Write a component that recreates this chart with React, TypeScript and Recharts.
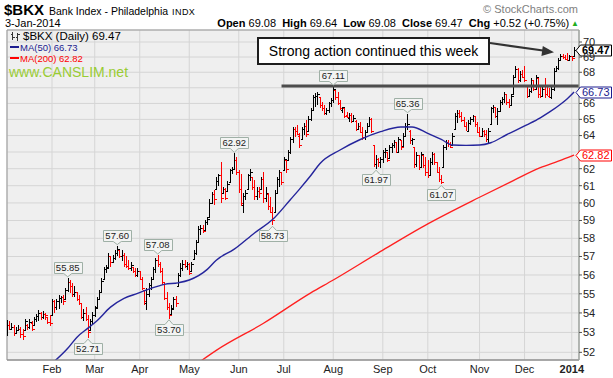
import React from "react";
import { ComposedChart, Bar, Line, XAxis, YAxis, CartesianGrid, ReferenceLine, ReferenceDot, ReferenceArea } from "recharts";

const FONT = '"Liberation Sans", Arial, sans-serif';

// daily OHLC, 3-Jan-2013 .. 3-Jan-2014 (one row per month)
const opens = [
  53.0, 53.4, 53.2, 53.3, 52.95, 53.1, 53.2, 52.9, 53.1, 53.4, 53.3, 53.5, 53.4, 53.7, 53.85, 54.0, 53.8, 53.95, 53.8, 53.55,
  53.9, 54.6, 54.3, 54.6, 54.8, 54.85, 54.7, 55.2, 55.6, 55.4, 55.0, 55.1, 54.7, 54.5, 53.8, 54.0, 53.7, 53.1, 53.6,
  53.9, 54.3, 54.75, 55.1, 55.8, 56.3, 56.45, 57.0, 56.7, 56.9, 57.2, 57.35, 57.0, 57.1, 56.6, 56.5, 56.35, 56.45, 56.2, 56.0,
  56.2, 55.8, 55.2, 54.5, 55.0, 55.45, 55.8, 56.3, 56.8, 56.6, 56.2, 55.5, 54.8, 54.3, 53.95, 54.25, 54.7, 55.4, 56.0, 56.4, 56.6, 56.5,
  56.6, 56.2, 56.85, 57.2, 57.8, 58.5, 58.6, 58.45, 58.9, 59.2, 60.0, 60.5, 60.8, 61.3, 61.6, 60.6, 60.8, 60.7, 61.2, 61.9, 62.0, 62.5,
  61.8, 60.8, 59.9, 60.4, 60.8, 61.6, 61.5, 60.9, 60.4, 60.7, 60.8, 61.4, 60.3, 60.5, 59.8, 59.5, 59.5, 60.6, 61.4, 61.8,
  61.9, 62.5, 62.5, 63.0, 63.8, 64.4, 64.3, 64.0, 63.8, 64.4, 64.6, 64.3, 65.0, 65.6, 66.4, 66.5, 66.4, 65.9, 65.7, 65.4, 65.6, 66.0,
  66.2, 66.85, 66.4, 66.0, 65.6, 65.7, 65.3, 65.1, 65.3, 64.9, 64.9, 64.4, 64.6, 64.2, 63.9, 64.2, 64.6, 65.0, 63.4, 62.3, 62.6, 62.4,
  62.6, 63.0, 63.0, 62.65, 63.3, 63.4, 63.6, 63.0, 63.7, 63.35, 64.0, 64.6, 64.3, 63.7, 63.3, 62.3, 62.8, 62.1, 62.8, 62.2,
  61.8, 61.6, 62.4, 62.9, 62.4, 61.8, 61.4, 62.1, 63.3, 63.6, 63.5, 63.4, 64.4, 65.2, 65.4, 65.2, 64.95, 64.6, 64.3, 64.8, 65.0, 65.2, 64.7,
  64.2, 64.0, 64.3, 64.1, 63.8, 64.7, 65.7, 65.8, 65.2, 65.5, 66.1, 66.3, 66.6, 66.1, 65.9, 66.6, 67.7, 68.2, 67.5, 67.9,
  67.7, 67.2, 66.5, 66.8, 67.5, 66.9, 67.6, 66.6, 66.5, 66.9, 66.6, 66.5, 66.4, 66.95, 68.1, 68.3, 68.8, 69.1, 69.0, 68.9, 68.8,
  69.05, 69.08,
];
const highs = [
  53.65, 53.6, 53.5, 53.4, 53.3, 53.4, 53.3, 53.2, 53.7, 53.45, 53.7, 53.6, 53.8, 53.95, 54.15, 54.05, 54.1, 54.0, 53.8, 53.9,
  54.7, 54.65, 54.7, 54.95, 54.9, 54.95, 55.3, 55.85, 55.75, 55.55, 55.4, 55.1, 54.95, 54.5, 54.2, 54.3, 53.9, 53.7, 54.05,
  54.35, 54.85, 55.2, 55.85, 56.45, 56.55, 57.2, 57.0, 57.1, 57.36, 57.6, 57.35, 57.35, 57.2, 57.0, 56.8, 56.7, 56.45, 56.35, 56.35,
  56.2, 55.9, 55.2, 55.3, 55.55, 55.9, 56.45, 56.9, 57.08, 56.7, 56.35, 55.55, 55.1, 54.5, 54.4, 54.85, 54.9, 56.1, 56.65, 56.8, 56.8, 56.7,
  56.65, 56.7, 57.36, 57.9, 58.7, 58.75, 58.75, 59.0, 59.2, 60.2, 60.65, 60.75, 61.5, 61.7, 62.42, 60.95, 60.85, 61.25, 62.0, 62.1, 62.92, 62.7,
  61.93, 61.7, 60.55, 60.75, 61.7, 62.0, 61.53, 61.34, 60.95, 60.95, 61.53, 61.83, 60.95, 60.55, 60.36, 59.79, 60.75, 61.53, 61.93, 61.83,
  62.7, 62.52, 63.12, 63.93, 64.55, 64.55, 64.65, 64.14, 64.55, 64.8, 64.96, 65.2, 65.7, 66.55, 66.65, 66.75, 66.43, 66.1, 65.9, 65.7, 66.1, 66.32,
  67.11, 66.86, 66.75, 66.22, 65.8, 65.7, 65.48, 65.38, 65.38, 65.28, 64.96, 64.76, 64.86, 64.55, 64.35, 64.76, 65.17, 65.07, 63.42, 62.8, 62.62, 62.72,
  63.1, 63.22, 63.02, 63.42, 63.52, 63.73, 63.62, 63.93, 63.73, 64.14, 64.76, 65.36, 64.35, 63.83, 63.32, 63.02, 62.82, 63.02, 62.82, 62.72,
  62.52, 62.62, 63.02, 62.92, 62.42, 62.13, 61.63, 63.42, 63.73, 63.73, 63.62, 64.14, 65.38, 65.59, 65.59, 65.48, 65.17, 64.86, 64.96, 65.17, 65.28, 65.2, 64.86,
  64.55, 64.45, 64.35, 64.35, 64.45, 65.8, 65.9, 65.8, 65.7, 66.22, 66.43, 66.75, 66.6, 66.3, 66.6, 67.8, 68.4, 68.28, 68.06, 68.17,
  68.4, 67.2, 66.9, 67.63, 67.52, 67.85, 67.63, 67.2, 67.1, 67.63, 67.1, 67.0, 67.1, 68.28, 68.4, 68.94, 69.2, 69.2, 69.16, 69.27, 69.16,
  69.05, 69.64,
];
const lows = [
  52.8, 53.1, 53.1, 52.8, 52.95, 53.05, 52.7, 52.6, 53.05, 53.1, 53.2, 53.05, 53.35, 53.55, 53.6, 53.65, 53.7, 53.65, 53.45, 53.35,
  53.9, 54.0, 54.15, 54.2, 54.5, 54.4, 54.65, 55.1, 55.05, 54.85, 54.85, 54.6, 54.4, 53.7, 53.6, 53.6, 52.71, 53.1, 53.45,
  53.8, 54.3, 54.7, 55.05, 55.73, 56.1, 56.45, 56.45, 56.65, 56.8, 57.05, 56.9, 56.75, 56.45, 56.4, 56.27, 56.2, 56.1, 55.9, 55.9,
  55.73, 55.2, 54.4, 54.15, 54.85, 55.2, 55.73, 56.1, 56.45, 56.1, 55.47, 54.67, 54.15, 53.7, 53.9, 54.25, 54.3, 55.4, 55.9, 56.2, 56.35, 56.27,
  56.0, 56.15, 56.8, 57.1, 57.8, 58.2, 58.3, 58.45, 58.75, 59.2, 60.0, 59.9, 60.75, 61.0, 59.98, 60.55, 60.17, 60.65, 61.2, 61.7, 62.0, 61.6,
  60.55, 59.8, 59.42, 60.17, 60.75, 61.25, 60.75, 60.17, 60.17, 60.27, 60.75, 59.98, 60.07, 59.6, 59.41, 58.73, 59.41, 60.55, 60.95, 61.04,
  61.85, 61.73, 62.45, 62.9, 63.52, 63.93, 64.04, 63.22, 63.73, 64.04, 63.9, 64.3, 64.9, 65.59, 65.8, 65.9, 65.7, 65.5, 65.28, 65.28, 65.38, 65.8,
  66.0, 66.22, 65.9, 65.59, 65.38, 65.07, 65.1, 64.86, 64.76, 64.86, 64.25, 64.35, 64.14, 63.73, 63.73, 64.14, 64.55, 64.14, 62.1, 61.97, 62.13, 62.03,
  62.33, 62.62, 62.42, 62.6, 62.92, 63.22, 62.92, 63.0, 63.12, 63.32, 63.93, 64.35, 63.5, 63.42, 62.03, 62.13, 61.93, 62.05, 62.03, 61.54,
  61.44, 61.55, 62.23, 62.23, 61.73, 61.24, 61.07, 62.03, 63.12, 63.32, 63.22, 63.38, 64.35, 64.76, 65.07, 64.86, 64.55, 64.25, 64.3, 64.66, 64.86, 64.55, 64.14,
  63.93, 64.0, 63.93, 63.62, 63.52, 64.7, 65.38, 65.07, 64.66, 65.5, 65.9, 66.0, 65.9, 65.7, 65.9, 66.6, 67.63, 67.3, 67.4, 67.63,
  67.4, 66.35, 66.45, 66.67, 66.78, 66.9, 66.35, 66.35, 66.45, 66.35, 66.45, 66.35, 66.25, 66.78, 68.0, 68.17, 68.72, 68.9, 68.83, 68.72, 68.8,
  68.72, 69.08,
];
const closes = [
  53.4, 53.2, 53.3, 52.95, 53.15, 53.2, 52.9, 52.8, 53.6, 53.3, 53.55, 53.2, 53.7, 53.85, 54.0, 53.8, 53.95, 53.9, 53.55, 53.5,
  54.6, 54.3, 54.6, 54.8, 54.85, 54.6, 55.2, 55.6, 55.4, 55.0, 55.1, 54.7, 54.5, 53.8, 54.0, 53.7, 53.0, 53.6, 53.9,
  54.25, 54.75, 55.1, 55.7, 56.3, 56.4, 57.0, 56.7, 56.9, 57.2, 57.4, 57.0, 57.1, 56.6, 56.5, 56.35, 56.55, 56.2, 56.0, 56.2,
  55.8, 55.3, 54.6, 55.0, 55.45, 55.8, 56.3, 56.8, 56.6, 56.2, 55.6, 54.8, 54.3, 53.9, 54.2, 54.7, 54.5, 56.0, 56.4, 56.6, 56.5, 56.6,
  56.1, 56.6, 57.2, 57.8, 58.5, 58.6, 58.4, 58.9, 59.1, 60.0, 60.5, 60.2, 61.3, 61.6, 60.3, 60.8, 60.3, 61.1, 61.9, 62.0, 62.5, 61.8,
  60.8, 60.0, 60.4, 60.6, 61.6, 61.8, 60.9, 60.4, 60.7, 60.6, 61.4, 60.3, 60.6, 59.8, 59.5, 59.0, 60.6, 61.4, 61.8, 61.2,
  62.6, 62.0, 63.0, 63.8, 64.4, 64.3, 64.1, 63.4, 64.4, 64.6, 64.1, 65.0, 65.6, 66.4, 66.5, 66.6, 65.9, 65.7, 65.4, 65.6, 66.0, 66.2,
  66.9, 66.4, 66.0, 65.7, 65.75, 65.2, 65.15, 65.3, 64.9, 65.1, 64.4, 64.6, 64.2, 63.9, 64.2, 64.6, 65.0, 64.3, 62.3, 62.6, 62.4, 62.6,
  63.0, 63.1, 62.5, 63.3, 63.4, 63.6, 63.0, 63.8, 63.3, 64.0, 64.6, 64.7, 63.7, 63.8, 62.3, 62.8, 62.1, 62.9, 62.2, 61.8,
  61.6, 62.4, 62.9, 62.4, 61.8, 61.4, 61.2, 63.3, 63.6, 63.5, 63.3, 64.0, 65.2, 65.4, 65.2, 64.95, 64.6, 64.3, 64.8, 65.0, 65.2, 64.7, 64.2,
  64.0, 64.3, 64.1, 63.8, 64.3, 65.7, 65.8, 65.2, 65.5, 66.1, 66.3, 66.6, 66.1, 65.9, 66.5, 67.7, 68.2, 67.5, 67.9, 67.7,
  67.5, 66.5, 66.8, 67.5, 66.9, 67.7, 66.6, 66.5, 66.9, 66.6, 66.5, 66.4, 66.95, 68.1, 68.3, 68.8, 69.1, 69.0, 68.9, 68.8, 69.05,
  68.95, 69.47,
];

// moving averages (bar index, value)
const ma50Idx = [20, 27, 31, 36, 40, 46, 52, 58, 64, 70, 76, 81, 89, 93, 101, 110, 118, 126, 130, 135, 139, 148, 157, 166, 175, 180, 187, 193, 198, 204, 210, 215, 222, 231, 237, 241, 246, 249, 252];
const ma50Val = [51.45, 52.2, 52.75, 53.22, 53.6, 54.3, 54.76, 55.02, 55.29, 55.5, 55.58, 55.73, 56.3, 56.8, 57.4, 58.3, 59.05, 60.2, 60.8, 61.6, 62.3, 63.12, 63.76, 64.24, 64.53, 64.53, 64.14, 63.76, 63.42, 63.4, 63.42, 63.56, 64.05, 64.66, 65.1, 65.45, 65.95, 66.3, 66.73];
const ma200Idx = [84, 93, 114, 135, 145, 165, 187, 210, 225, 237, 245, 252];
const ma200Val = [51.4, 52.1, 53.47, 55.05, 55.73, 57.2, 58.81, 60.33, 61.3, 62.06, 62.45, 62.82];

const monthIdx = [20, 39, 59, 81, 103, 123, 145, 167, 187, 210, 230, 251];
const monthLabels = ["Feb", "Mar", "Apr", "May", "Jun", "Jul", "Aug", "Sep", "Oct", "Nov", "Dec", "2014"];
const priceTicks = [52, 53, 54, 55, 56, 57, 58, 59, 60, 61, 62, 63, 64, 65, 66, 67, 68, 69, 70];

const peakIdx = [27, 49, 67, 101, 145, 178];
const peakVal = [55.85, 57.6, 57.08, 62.92, 67.11, 65.36];
const troughIdx = [36, 72, 118, 164, 193];
const troughVal = [52.71, 53.7, 58.73, 61.97, 61.07];

const resistance = 67.11;
const resistanceFrom = 122;

const X_MAX = 254.2;
const Y_DOMAIN = [51.62, 70.81];

const bars = opens.map((o, i) => ({
  i,
  o,
  h: highs[i],
  l: lows[i],
  c: closes[i],
  up: i === 0 ? closes[0] >= o : closes[i] >= closes[i - 1],
}));
const ma50Data = ma50Idx.map((i, k) => ({ i, v: ma50Val[k] }));
const ma200Data = ma200Idx.map((i, k) => ({ i, v: ma200Val[k] }));

const last = closes.length - 1;
const lastClose = closes[last];
const lastMa50 = ma50Val[ma50Val.length - 1];
const lastMa200 = ma200Val[ma200Val.length - 1];
const prevClose = closes[last - 1];
const tagVals = [lastClose, lastMa50, lastMa200];

function OhlcBar(props: any) {
  const { x, y, width, height, payload } = props;
  if (x == null || y == null || !payload) return null;
  const top = Math.min(y, y + height);
  const bot = Math.max(y, y + height, top + 1);
  const lh = Math.log(payload.h);
  const span = lh - Math.log(payload.l);
  const at = (v: number) => (span > 0 ? top + ((lh - Math.log(v)) / span) * (bot - top) : top);
  const cx = Math.round(x + width / 2) + 0.5;
  const yo = Math.round(at(payload.o)) + 0.5;
  const yc = Math.round(at(payload.c)) + 0.5;
  return (
    <g stroke={payload.up ? "#000" : "#ff0000"} strokeWidth={1} shapeRendering="crispEdges">
      <line x1={cx} x2={cx} y1={top} y2={bot} />
      <line x1={cx - 2} x2={cx} y1={yo} y2={yo} />
      <line x1={cx} x2={cx + 2} y1={yc} y2={yc} />
    </g>
  );
}

function Callout({ cx, cy, value, below }: any) {
  if (cx == null || cy == null) return null;
  const w = 28;
  const h = 11;
  const gap = 5;
  const x0 = Math.round(cx - w / 2) + 0.5;
  const x1 = x0 + w;
  let d: string;
  let ty: number;
  if (below) {
    const t = Math.round(cy + gap) + 0.5;
    d = `M${x0},${t} H${cx - 4} L${cx},${cy + 1} L${cx + 4},${t} H${x1} V${t + h} H${x0} Z`;
    ty = t + h / 2;
  } else {
    const b = Math.round(cy - gap) + 0.5;
    d = `M${x0},${b - h} H${x1} V${b} H${cx + 4} L${cx},${cy - 1} L${cx - 4},${b} H${x0} Z`;
    ty = b - h / 2;
  }
  return (
    <g>
      <path d={d} fill="#f3f4f3" stroke="#9fb0a6" strokeWidth={1} />
      <text x={cx} y={ty} dy="0.35em" textAnchor="middle" fontSize={9.5} fontFamily={FONT} fill="#222">
        {value.toFixed(2)}
      </text>
    </g>
  );
}

function PriceTag({ cx, cy, value, color, bold }: any) {
  if (cx == null || cy == null) return null;
  const yy = Math.round(cy) + 0.5;
  const x0 = cx - 3;
  const x1 = cx + 1.5;
  const x2 = cx + 32.5;
  const hh = 5.5;
  return (
    <g>
      <path d={`M${x0},${yy} L${x1},${yy - hh} H${x2} V${yy + hh} H${x1} Z`} fill="#fff" stroke={color} strokeWidth={1} />
      <text x={x1 + 1.5} y={yy} dy="0.36em" fontSize={11} fontWeight={bold ? "bold" : "normal"} fontFamily={FONT} fill={color}>
        {value.toFixed(2)}
      </text>
    </g>
  );
}

// price labels that sit right under a last-value tag are covered by it
function PriceTick(props: any) {
  const { x, y, payload } = props;
  const v = payload.value;
  if (tagVals.some((t) => Math.abs(Math.log(v / t)) < 0.005)) return <g />;
  return (
    <text x={x} y={y} dy="0.355em" fontSize={11} fontFamily={FONT} fill="#222" textAnchor="start">
      {v}
    </text>
  );
}

function MonthTick(props: any) {
  const { x, y, payload } = props;
  const label = monthLabels[monthIdx.indexOf(payload.value)];
  return (
    <text x={x} y={y} dy="0.71em" textAnchor="middle" fontSize={11} fontFamily={FONT} fill="#222" fontWeight={label === "2014" ? "bold" : "normal"}>
      {label}
    </text>
  );
}

function BarGlyph() {
  return (
    <svg width={10} height={10} style={{ verticalAlign: "-1px", marginRight: 3 }}>
      <g stroke="#333" strokeWidth={1} shapeRendering="crispEdges">
        <line x1={2.5} x2={2.5} y1={1} y2={9} />
        <line x1={0.5} x2={2.5} y1={3.5} y2={3.5} />
        <line x1={2.5} x2={4.5} y1={6.5} y2={6.5} />
        <line x1={7.5} x2={7.5} y1={2} y2={10} />
        <line x1={5.5} x2={7.5} y1={6.5} y2={6.5} />
        <line x1={7.5} x2={9.5} y1={3.5} y2={3.5} />
      </g>
    </svg>
  );
}

export default function App() {
  const chg = lastClose - prevClose;
  const pct = (chg / prevClose) * 100;
  return (
    <div style={{ position: "absolute", left: 0, top: 0, width: 613, height: 378, background: "#fff", fontFamily: FONT, overflow: "hidden" }}>
      <ComposedChart width={613} height={378} data={bars} margin={{ top: 30, right: 0, bottom: 0, left: 7 }}>
        <CartesianGrid fill="#efefef" stroke="#d5d5d5" />
        <XAxis
          type="number"
          dataKey="i"
          domain={[0, X_MAX]}
          allowDataOverflow
          ticks={monthIdx}
          interval={0}
          tick={<MonthTick />}
          tickLine={false}
          tickSize={5}
          tickMargin={0}
          height={18}
          axisLine={{ stroke: "#8d8d8d" }}
        />
        <YAxis
          orientation="right"
          type="number"
          scale="log"
          domain={Y_DOMAIN}
          allowDataOverflow
          ticks={priceTicks}
          interval={0}
          width={34}
          tickSize={3}
          tickMargin={1}
          tickLine={{ stroke: "#555" }}
          axisLine={{ stroke: "#a3aaa3" }}
          tick={<PriceTick />}
        />
        <ReferenceArea x1={0} x2={X_MAX} y1={Y_DOMAIN[0]} y2={Y_DOMAIN[1]} fill="none" stroke="#9a9a9a" ifOverflow="visible" />
        <Line data={ma200Data} dataKey="v" type="monotone" stroke="#ff1f1f" strokeWidth={1.3} dot={false} isAnimationActive={false} />
        <Line data={ma50Data} dataKey="v" type="monotone" stroke="#25259c" strokeWidth={1.4} dot={false} isAnimationActive={false} />
        <Bar dataKey={(d: any) => [d.l, d.h]} shape={<OhlcBar />} barSize={2} isAnimationActive={false} />
        <ReferenceLine
          segment={[{ x: resistanceFrom, y: resistance }, { x: X_MAX, y: resistance }]}
          stroke="#4d4d4d"
          strokeWidth={3}
          ifOverflow="visible"
        />
        {peakIdx.map((idx, k) => (
          <ReferenceDot key={`p${k}`} x={idx} y={peakVal[k]} r={0} ifOverflow="visible" shape={(p: any) => <Callout {...p} value={peakVal[k]} />} />
        ))}
        {troughIdx.map((idx, k) => (
          <ReferenceDot key={`t${k}`} x={idx} y={troughVal[k]} r={0} ifOverflow="visible" shape={(p: any) => <Callout {...p} value={troughVal[k]} below />} />
        ))}
        <ReferenceDot x={X_MAX} y={lastMa200} r={0} ifOverflow="visible" shape={(p: any) => <PriceTag {...p} value={lastMa200} color="#ff0000" />} />
        <ReferenceDot x={X_MAX} y={lastMa50} r={0} ifOverflow="visible" shape={(p: any) => <PriceTag {...p} value={lastMa50} color="#1c1c8f" />} />
        <ReferenceDot x={X_MAX} y={lastClose} r={0} ifOverflow="visible" shape={(p: any) => <PriceTag {...p} value={lastClose} color="#000" bold />} />
      </ComposedChart>

      {/* header */}
      <div style={{ position: "absolute", left: 4, top: 0, lineHeight: "20px", whiteSpace: "nowrap", color: "#000" }}>
        <span style={{ fontSize: 15, fontWeight: "bold" }}>$BKX</span>
        <span style={{ fontSize: 10.5, marginLeft: 5 }}>Bank Index - Philadelphia</span>
        <span style={{ fontSize: 9, marginLeft: 4, letterSpacing: 0.4 }}>INDX</span>
      </div>
      <div style={{ position: "absolute", left: 5, top: 17, fontSize: 11, lineHeight: "13px" }}>3-Jan-2014</div>
      <div style={{ position: "absolute", right: 35, top: 3, fontSize: 11, lineHeight: "13px", color: "#808080" }}>© StockCharts.com</div>
      <div style={{ position: "absolute", right: 34, top: 17, fontSize: 11, lineHeight: "13px", whiteSpace: "nowrap", display: "flex", alignItems: "center" }}>
        <b>Open</b>&nbsp;{opens[last].toFixed(2)}&nbsp;&nbsp;<b>High</b>&nbsp;{highs[last].toFixed(2)}&nbsp;&nbsp;<b>Low</b>&nbsp;{lows[last].toFixed(2)}&nbsp;&nbsp;
        <b>Close</b>&nbsp;{lastClose.toFixed(2)}&nbsp;&nbsp;<b>Chg</b>&nbsp;+{chg.toFixed(2)} (+{pct.toFixed(2)}%)
        <span style={{ color: "#1fae1f", fontSize: 8, marginLeft: 2 }}>▲</span>
      </div>

      {/* legend */}
      <div style={{ position: "absolute", left: 10, top: 30, fontSize: 11.5, lineHeight: "12px", whiteSpace: "nowrap" }}>
        <BarGlyph />$BKX (Daily) {lastClose.toFixed(2)}
      </div>
      <div style={{ position: "absolute", left: 10, top: 41.5, fontSize: 9.5, lineHeight: "12px", color: "#1c1c8f", whiteSpace: "nowrap" }}>
        <span style={{ display: "inline-block", width: 9, height: 2, background: "#1c1c8f", verticalAlign: "3px", marginRight: 1 }} />MA(50) {lastMa50.toFixed(2)}
      </div>
      <div style={{ position: "absolute", left: 10, top: 53, fontSize: 9.5, lineHeight: "12px", color: "#ff0000", whiteSpace: "nowrap" }}>
        <span style={{ display: "inline-block", width: 9, height: 2, background: "#ff0000", verticalAlign: "3px", marginRight: 1 }} />MA(200) {lastMa200.toFixed(2)}
      </div>
      <div style={{ position: "absolute", left: 9, top: 64, fontSize: 14, lineHeight: "17px", color: "#99cc33", whiteSpace: "nowrap" }}>www.CANSLIM.net</div>

      {/* annotation */}
      <div
        style={{
          position: "absolute",
          left: 257,
          top: 37,
          width: 233,
          height: 28,
          boxSizing: "border-box",
          border: "2px solid #1e1e1e",
          background: "#fff",
          fontSize: 14,
          lineHeight: "24px",
          textAlign: "center",
          whiteSpace: "nowrap",
        }}
      >
        Strong action continued this week
      </div>
      <svg width={613} height={378} style={{ position: "absolute", left: 0, top: 0, pointerEvents: "none" }}>
        <line x1={490} y1={43} x2={543} y2={50.5} stroke="#333" strokeWidth={2.2} />
        <polygon points="554,52.3 541.4,56 542.8,45.9" fill="#333" />
      </svg>
    </div>
  );
}
